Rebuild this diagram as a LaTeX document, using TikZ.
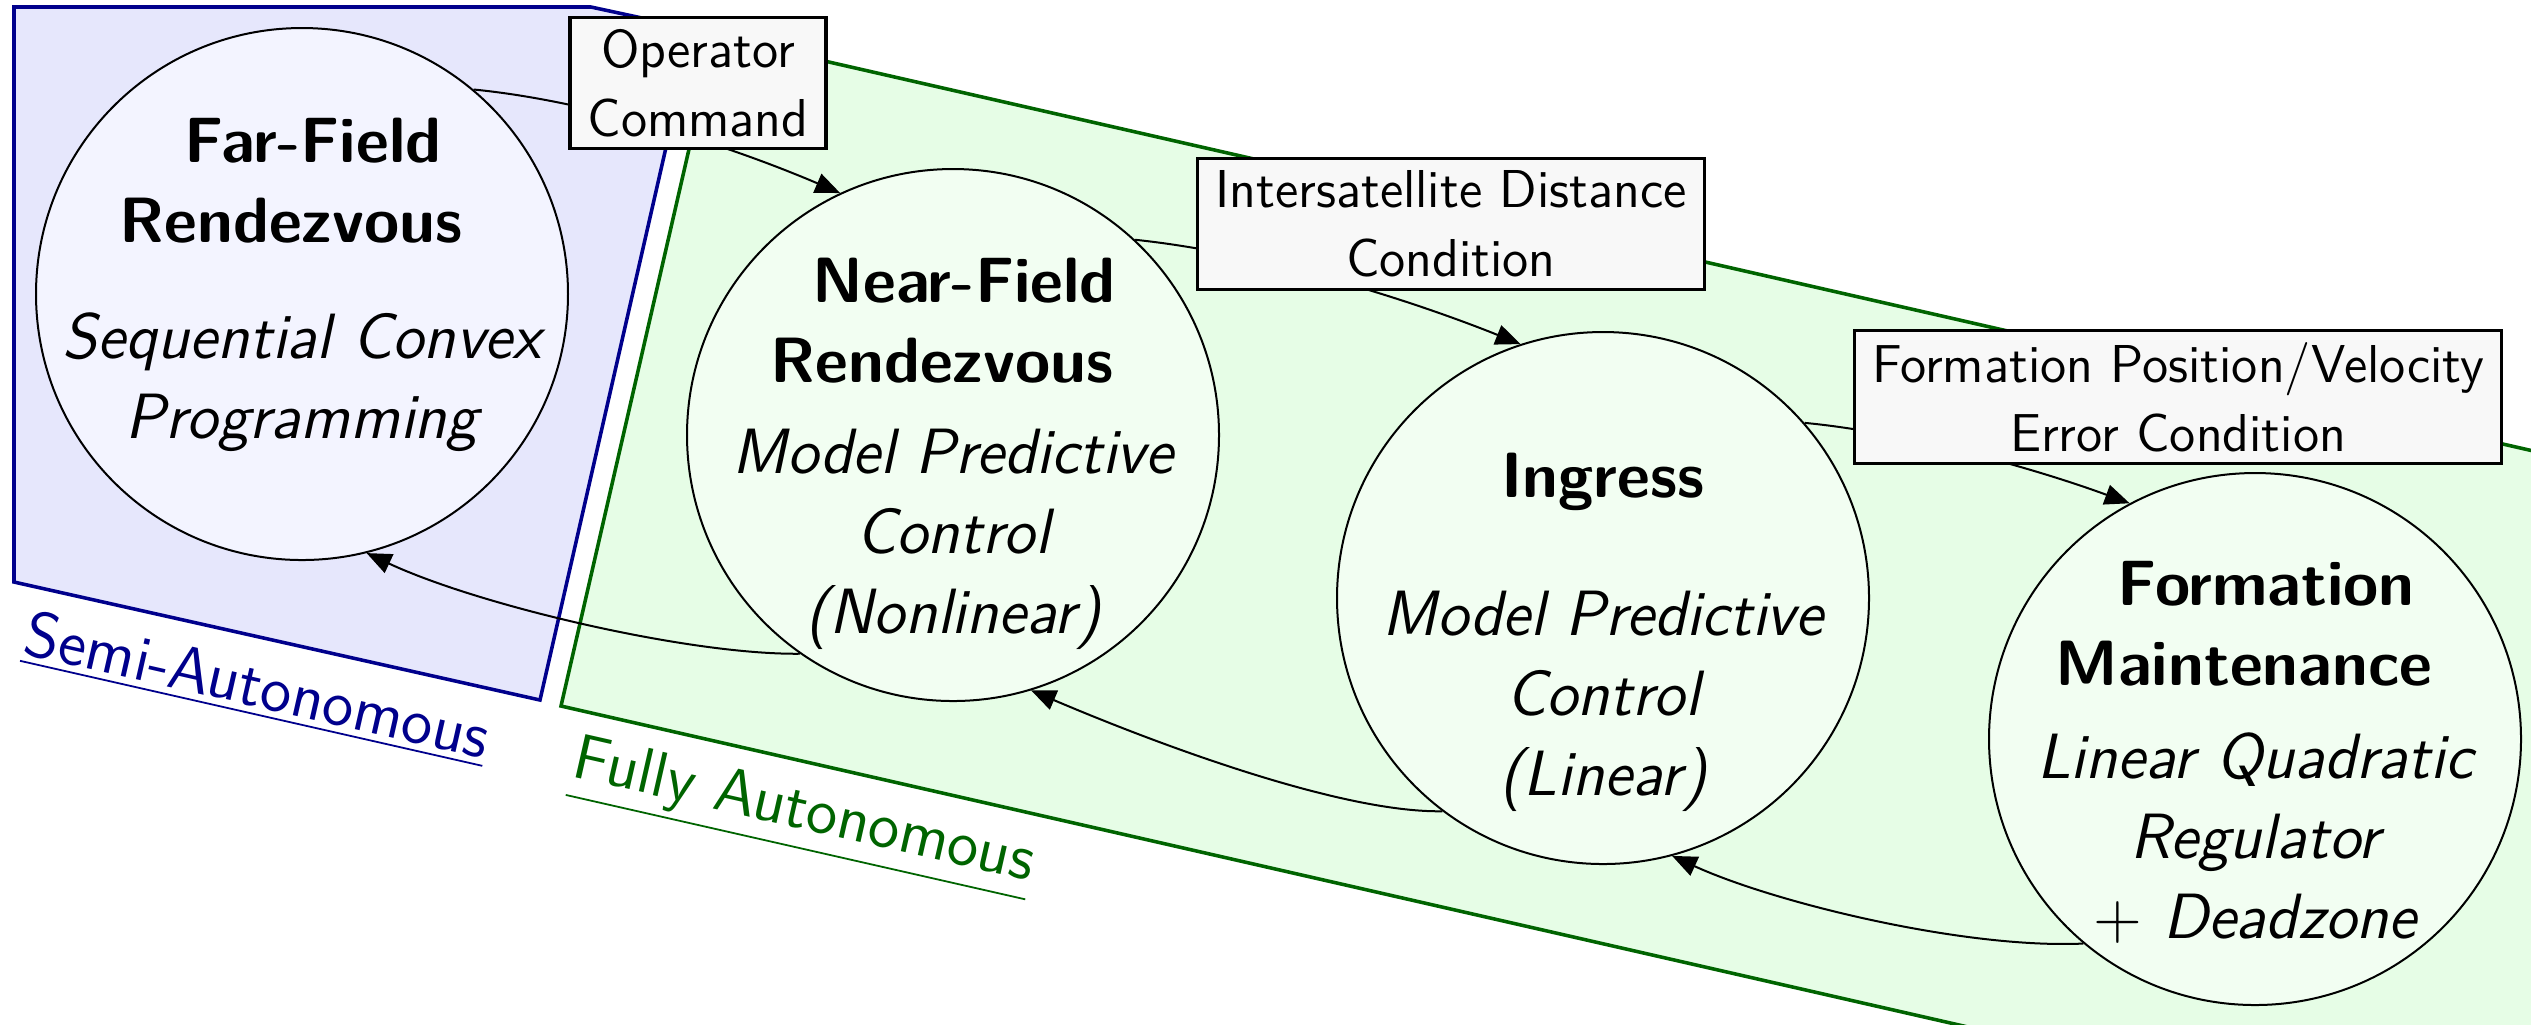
\documentclass[tikz,border=0pt]{standalone}
\usetikzlibrary{arrows.meta,calc}
\definecolor{semifill}{RGB}{230,231,252}
\definecolor{semiline}{RGB}{0,0,140}
\definecolor{semicirc}{RGB}{243,244,255}
\definecolor{fullfill}{RGB}{230,253,230}
\definecolor{fullline}{RGB}{0,100,0}
\definecolor{fullcirc}{RGB}{242,254,242}
\definecolor{boxfill}{RGB}{248,248,248}
\newcommand\mylines[1]{\begin{tabular}[t]{@{}c@{}}#1\end{tabular}}
\begin{document}
\begin{tikzpicture}[x=0.225pt,y=-0.225pt,
  statecirc/.style={circle, draw=black, line width=0.45pt, minimum size=119.7pt, inner sep=0pt},
  ttl/.style={font=\sffamily\bfseries\Large, inner sep=0pt, anchor=base},
  subst/.style={font=\sffamily\itshape\Large, inner sep=0pt, anchor=base},
  cond/.style={draw=black, line width=0.75pt, fill=boxfill, font=\sffamily\fontsize{12}{15.5}\selectfont, align=center, inner xsep=4pt, inner ysep=2.7pt},
  flow/.style={line width=0.45pt, -{Triangle[length=5.6pt,width=4.6pt]}},
  region/.style={line width=0.8pt},
  reglabel/.style={font=\sffamily\Large, rotate=-12.8, anchor=north west}
]
\path[use as bounding box] (0,0) rectangle (2531,1024);
\clip (0,0) rectangle (2531,1024);

% regions
\filldraw[region, fill=semifill, draw=semiline] (14,7) -- (591,7) -- (693,29) -- (540,700) -- (14,582) -- cycle;
\filldraw[region, fill=fullfill, draw=fullline] (715,36) -- (2700,489) -- (2700,1194) -- (561,706) -- cycle;
\node[reglabel, text=semiline] (semilab) at (20,590) {\underline{Semi-Autonomous}};
\node[reglabel, text=fullline] (fulllab) at (568,714) {\underline{Fully Autonomous}};

% states
\node[statecirc, fill=semicirc] (far) at (302,294) {};
\node[statecirc, fill=fullcirc] (near) at (953,435) {};
\node[statecirc, fill=fullcirc] (ingress) at (1603,598) {};
\node[statecirc, fill=fullcirc] (form) at (2255,739) {};

\node[ttl] (farT) at ($(far.center)+(0,-132)$) {\mylines{\hspace*{5pt}Far-Field\\Rendezvous\hspace*{5pt}}};
\node[subst] (farS) at ($(far.center)+(0,64)$) {\mylines{Sequential Convex\\Programming}};
\node[ttl] (nearT) at ($(near.center)+(0,-133)$) {\mylines{\hspace*{5pt}Near-Field\\Rendezvous\hspace*{5pt}}};
\node[subst] (nearS) at ($(near.center)+(0,38)$) {\mylines{Model Predictive\\Control\\(Nonlinear)}};
\node[ttl] (ingT) at ($(ingress.center)+(0,-101)$) {\mylines{Ingress}};
\node[subst] (ingS) at ($(ingress.center)+(0,37)$) {\mylines{Model Predictive\\Control\\(Linear)}};
\node[ttl] (formT) at ($(form.center)+(0,-134)$) {\mylines{\hspace*{5pt}Formation\\Maintenance\hspace*{5pt}}};
\node[subst] (formS) at ($(form.center)+(0,39)$) {\mylines{Linear Quadratic\\Regulator\\$+$ Deadzone}};

% connectors
\draw[flow] (far.50.8) .. controls (591,101) and (729,145.5) .. (near.115.2);
\draw[flow] (near.47.9) .. controls (1262,253) and (1408,299) .. (ingress.108.6);
\draw[flow] (ingress.41.8) .. controls (1902,432) and (2028,466) .. (form.118.4);
\draw[flow] (near.235) .. controls (690,655) and (480,606) .. (far.284.1);
\draw[flow] (ingress.233.4) .. controls (1335,813) and (1138,736) .. (near.287.5);
\draw[flow] (form.230.5) .. controls (1965,949) and (1775,903) .. (ingress.285.6);

% condition boxes
\node[cond] (opc) at (698,83) {Operator\\Command};
\node[cond] (dist) at (1451,224) {Intersatellite Distance\\Condition};
\node[cond] (err) at (2178,397) {Formation Position/Velocity\\Error Condition};
\end{tikzpicture}
\end{document}
